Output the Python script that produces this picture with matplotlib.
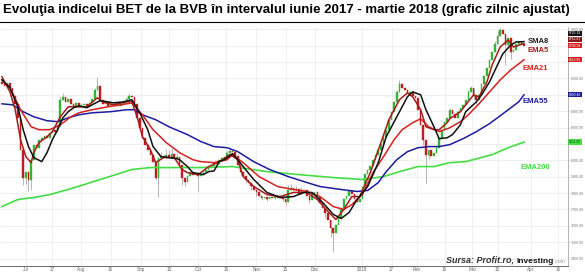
import matplotlib
matplotlib.use('Agg')
import matplotlib.pyplot as plt
from matplotlib.lines import Line2D

# daily closes, mid-June 2017 -> end of March 2018
closes = [
    8467, 8455, 8473, 8443, 8394, 8345, 8260, 8065, 7895, 7931,
    7883, 8004, 8096, 8077, 8126, 8138, 8150, 8138, 8169, 8187,
    8175, 8211, 8370, 8388, 8357, 8376, 8345, 8333, 8351, 8327,
    8339, 8345, 8333, 8351, 8376, 8431, 8455, 8370, 8345, 8357,
    8333, 8345, 8339, 8351, 8333, 8345, 8364, 8376, 8394, 8388,
    8345, 8260, 8199, 8138, 8096, 8065, 8035, 7992, 7895, 8017,
    8029, 8017, 8035, 8023, 8041, 8017, 8023, 7974, 7895, 7870,
    7907, 7931, 7913, 7925, 7907, 7919, 7931, 7944, 7956, 7968,
    7986, 7980, 8004, 8017, 8023, 8047, 8059, 8053, 8029, 7974,
    7931, 7907, 7883, 7864, 7846, 7822, 7804, 7785, 7773, 7779,
    7767, 7779, 7773, 7785, 7773, 7779, 7767, 7743, 7822, 7834,
    7822, 7828, 7797, 7822, 7816, 7785, 7755, 7797, 7804, 7779,
    7737, 7712, 7676, 7633, 7590, 7554, 7603, 7651, 7712, 7767,
    7785, 7810, 7797, 7761, 7743, 7767, 7840, 7919, 7944, 7968,
    8004, 8035, 8065, 8102, 8144, 8187, 8248, 8297, 8357, 8418,
    8467, 8443, 8431, 8406, 8418, 8394, 8382, 8309, 8217, 8126,
    8035, 8065, 8029, 8047, 8077, 8138, 8187, 8236, 8260, 8309,
    8284, 8260, 8297, 8321, 8339, 8370, 8418, 8443, 8394, 8370,
    8400, 8467, 8516, 8564, 8613, 8662, 8710, 8759, 8796, 8771,
    8704, 8747, 8662, 8674, 8710, 8723, 8712, 8701,
]
first_open = 8480

# visible wicks (index -> price)
highs = {22: 8388, 23: 8412, 35: 8443, 36: 8509, 47: 8388, 48: 8412,
         60: 8053, 62: 8071, 63: 8065, 64: 8077, 66: 8047, 85: 8065, 86: 8077,
         108: 7852, 109: 7858, 111: 7846, 113: 7840, 149: 8431, 150: 8491,
         151: 8467, 169: 8321, 172: 8309, 176: 8431, 177: 8455, 186: 8729,
         187: 8790, 188: 8808}
lows = {8: 7852, 9: 7858, 10: 7810, 11: 7816, 58: 7883, 59: 7779, 68: 7852,
        69: 7846, 74: 7810, 92: 7864, 94: 7822, 96: 7785, 98: 7755, 100: 7749,
        103: 7761, 106: 7749, 107: 7730, 116: 7737, 122: 7651, 124: 7530,
        125: 7438, 126: 7560, 159: 8096, 160: 7864, 161: 8010, 178: 8376,
        179: 8345, 190: 8583, 191: 8700, 192: 8620}

# moving averages, read at selected days
sma8_x = [0, 3, 6, 8, 10, 12, 15, 17, 19, 21, 23, 25, 27, 29, 32, 34, 37, 40, 42, 46,
          49, 52, 55, 57, 60, 63, 66, 67, 70, 72, 76, 78, 80, 82, 84, 87, 89, 91, 95,
          100, 105, 110, 114, 117, 121, 125, 128, 131, 134, 138, 142, 145, 149, 153,
          155, 158, 160, 163, 165, 168, 170, 173, 175, 179, 181, 184, 187, 189, 192,
          194, 197]
sma8_y = [8491, 8443, 8327, 8187, 8084, 8017, 7992, 8047, 8126, 8187, 8260, 8297, 8321,
          8333, 8321, 8339, 8364, 8357, 8351, 8357, 8370, 8290, 8187, 8084, 8023, 8017,
          8010, 8004, 7962, 7925, 7913, 7931, 7935, 7992, 8004, 8041, 8004, 7962, 7883,
          7804, 7773, 7779, 7804, 7804, 7743, 7670, 7645, 7682, 7761, 7840, 7986, 8144,
          8266, 8388, 8418, 8400, 8309, 8205, 8132, 8138, 8157, 8217, 8297, 8357, 8400,
          8479, 8583, 8650, 8704, 8723, 8725]

ema5_x = [0, 3, 5, 7, 9, 11, 12, 14, 17, 19, 22, 25, 28, 32, 36, 38, 42, 47, 49, 51,
          53, 56, 58, 61, 65, 68, 70, 74, 78, 82, 86, 89, 91, 95, 100, 105, 110, 115,
          119, 123, 126, 129, 132, 135, 139, 143, 146, 150, 153, 155, 158, 160, 163,
          165, 168, 169, 173, 175, 178, 180, 183, 185, 188, 191, 193, 197]
ema5_y = [8510, 8418, 8309, 8126, 8023, 7986, 8047, 8108, 8144, 8175, 8266, 8327, 8327,
          8327, 8382, 8357, 8339, 8357, 8357, 8266, 8144, 8065, 7986, 8017, 8017, 7944,
          7925, 7913, 7962, 7992, 8035, 8004, 7901, 7840, 7791, 7779, 7804, 7804, 7761,
          7688, 7639, 7700, 7779, 7779, 7925, 8108, 8248, 8370, 8412, 8388, 8309, 8205,
          8187, 8187, 8230, 8254, 8297, 8339, 8400, 8388, 8479, 8583, 8692, 8735, 8692,
          8713]

ema21_x = [0, 3, 7, 11, 14, 18, 22, 26, 29, 34, 40, 45, 49, 53, 57, 62, 67, 72, 75, 80,
           85, 87, 91, 97, 104, 110, 115, 120, 125, 129, 132, 136, 140, 144, 148, 151,
           155, 158, 161, 165, 169, 173, 176, 180, 184, 188, 192, 195, 197]
ema21_y = [8491, 8443, 8309, 8205, 8187, 8187, 8217, 8266, 8290, 8309, 8327, 8339, 8351,
           8278, 8187, 8108, 8047, 8004, 7992, 7986, 8004, 8035, 7986, 7901, 7840, 7822,
           7810, 7779, 7718, 7700, 7730, 7791, 7925, 8023, 8126, 8187, 8230, 8254, 8205,
           8175, 8199, 8236, 8278, 8345, 8418, 8491, 8552, 8589, 8614]

ema55_x = [0, 4, 8, 12, 17, 21, 25, 29, 34, 41, 47, 50, 53, 58, 63, 70, 75, 80, 85, 89,
           95, 101, 108, 114, 120, 128, 134, 138, 142, 145, 149, 153, 157, 161, 165,
           169, 174, 179, 184, 189, 195, 197]
ema55_y = [8345, 8339, 8297, 8266, 8242, 8236, 8260, 8278, 8290, 8297, 8309, 8309, 8278,
           8248, 8205, 8157, 8115, 8084, 8077, 8053, 7992, 7944, 7901, 7870, 7840, 7822,
           7810, 7816, 7864, 7931, 8004, 8053, 8077, 8084, 8084, 8096, 8132, 8175, 8224,
           8284, 8357, 8400]

ema200_x = [0, 6, 12, 18, 25, 31, 37, 43, 49, 56, 62, 68, 75, 87, 100, 112, 125, 136,
            144, 150, 157, 163, 169, 175, 185, 191, 197]
ema200_y = [7718, 7761, 7773, 7791, 7822, 7852, 7883, 7913, 7944, 7956, 7956, 7956, 7956,
            7962, 7931, 7913, 7895, 7883, 7901, 7931, 7962, 7962, 7986, 7992, 8035, 8077,
            8111]

x_tick_pos = [9, 19, 30, 41, 52.5, 63, 74, 84.5, 96, 107, 118, 136, 147, 156.5, 167,
              177.5, 187, 199.5, 210]
x_tick_labels = ['Jul', '17', 'Aug', '16', 'Sep', '15', 'Oct', '16', 'Nov', '15', 'Dec',
                 '2018', '17', 'Feb', '15', 'Mar', '15', 'Apr', '16']
y_ticks = list(range(7400, 8900, 100))
y_hidden = [8100, 8400, 8600, 8700]

last_labels = [('8725.19', 8725.19, '#111111', 'white', 6),
               ('8712.87', 8712.87, '#8b1a1a', 'white', 3),
               ('8700.58', 8700.58, '#d42020', 'white', 0),
               ('8613.85', 8613.85, '#d42020', 'white', 0),
               ('8400.49', 8400.49, '#1c1ca0', 'white', 0),
               ('8111.35', 8111.35, '#44dd44', '#114411', 0)]

GREEN = '#35b335'
RED = '#bb1f1f'
FONT = ['Liberation Sans', 'DejaVu Sans']

fig = plt.figure(figsize=(5.85, 2.75), dpi=100)
ax = fig.add_axes([0, 9 / 275, 568 / 585, 239 / 275])

ax.set_xlim(-0.75, 213.6)
ax.set_ylim(7355, 8814)
ax.set_xticks(x_tick_pos)
ax.set_xticklabels(x_tick_labels, family=FONT)
ax.set_yticks(y_ticks)
ax.set_yticklabels(['' if v in y_hidden else '%.2f' % v for v in y_ticks], family=FONT)
ax.yaxis.tick_right()
ax.tick_params(axis='y', labelsize=2.6, colors='#777777', length=1, width=0.4, pad=0.8)
ax.tick_params(axis='x', labelsize=3.3, colors='#666666', length=0, pad=0.8)
ax.grid(True, color='#eaeaea', linewidth=0.5)
ax.set_axisbelow(True)
for s in ['top', 'left']:
    ax.spines[s].set_visible(False)
ax.spines['right'].set_color('#aaaaaa')
ax.spines['right'].set_linewidth(0.6)
ax.spines['bottom'].set_color('#555555')
ax.spines['bottom'].set_linewidth(0.6)

# candles
opens = [first_open] + closes[:-1]
for i, (o, c) in enumerate(zip(opens, closes)):
    col = GREEN if c >= o else RED
    top, bot = max(o, c), min(o, c)
    hi = max(highs.get(i, top), top)
    lo = min(lows.get(i, bot), bot)
    if hi > top or lo < bot:
        ax.vlines(i, lo, hi, color='#aaaaaa', linewidth=0.6, zorder=2)
    ax.bar(i, top - bot, bottom=bot, width=0.62, color=col, edgecolor=col,
           linewidth=0.3, zorder=3)

ax.plot(ema200_x, ema200_y, color='#44dd44', lw=1.2, zorder=4)
ax.plot(ema55_x, ema55_y, color='#1c1ca0', lw=1.1, zorder=4)
ax.plot(ema21_x, ema21_y, color='#d42020', lw=1.1, zorder=4)
ax.plot(ema5_x, ema5_y, color='#a51c1c', lw=1.1, zorder=5)
ax.plot(sma8_x, sma8_y, color='#111111', lw=1.1, zorder=5)

lab_kw = dict(fontsize=5.5, fontweight='bold', family=FONT, va='center', ha='left')
ax.text(198.5, 8725, 'SMA8', color='#222222', **lab_kw)
ax.text(198.5, 8672, 'EMA5', color='#a51c1c', **lab_kw)
ax.text(196.5, 8559, 'EMA21', color='#d42020', **lab_kw)
ax.text(196.5, 8358, 'EMA55', color='#1c1ca0', **lab_kw)
ax.text(195.5, 7956, 'EMA200', color='#44dd44', **lab_kw)

for txt, v, bg, fg, off in last_labels:
    ax.annotate(txt, xy=(1.0, v), xycoords=('axes fraction', 'data'),
                xytext=(0.8, off), textcoords='offset points', fontsize=2.4,
                family=FONT, color=fg, va='center', ha='left', annotation_clip=False,
                bbox=dict(boxstyle='square,pad=0.2', fc=bg, ec='none'))

fig.text(0.005, 0.962, 'Evoluţia indicelui BET de la BVB în intervalul iunie 2017 - martie 2018 (grafic zilnic ajustat)',
         fontsize=9.5, fontweight='bold', family=FONT, va='center', ha='left')
fig.add_artist(Line2D([0, 1], [1 - 22 / 275] * 2, color='black', lw=0.8))

# source note, laid out piece by piece so it ends near x=565
base_y = 1 - 263 / 275
parts = [('Sursa: Profit.ro, ', dict(fontsize=6.5, fontweight='bold', fontstyle='italic', color='#333333')),
         ('Investing', dict(fontsize=6, fontweight='bold', color='#111111')),
         ('.com', dict(fontsize=3.5, color='#999999'))]
fig.canvas.draw()
renderer = fig.canvas.get_renderer()
texts = []
for s, kw in parts:
    t = fig.text(0, base_y, s, family=FONT, va='baseline', ha='left', **kw)
    texts.append(t)
widths = [t.get_window_extent(renderer).width for t in texts]
x = 565 - sum(widths)
for t, w in zip(texts, widths):
    t.set_x(x / 585)
    x += w

fig.savefig('out.png', dpi=100)
